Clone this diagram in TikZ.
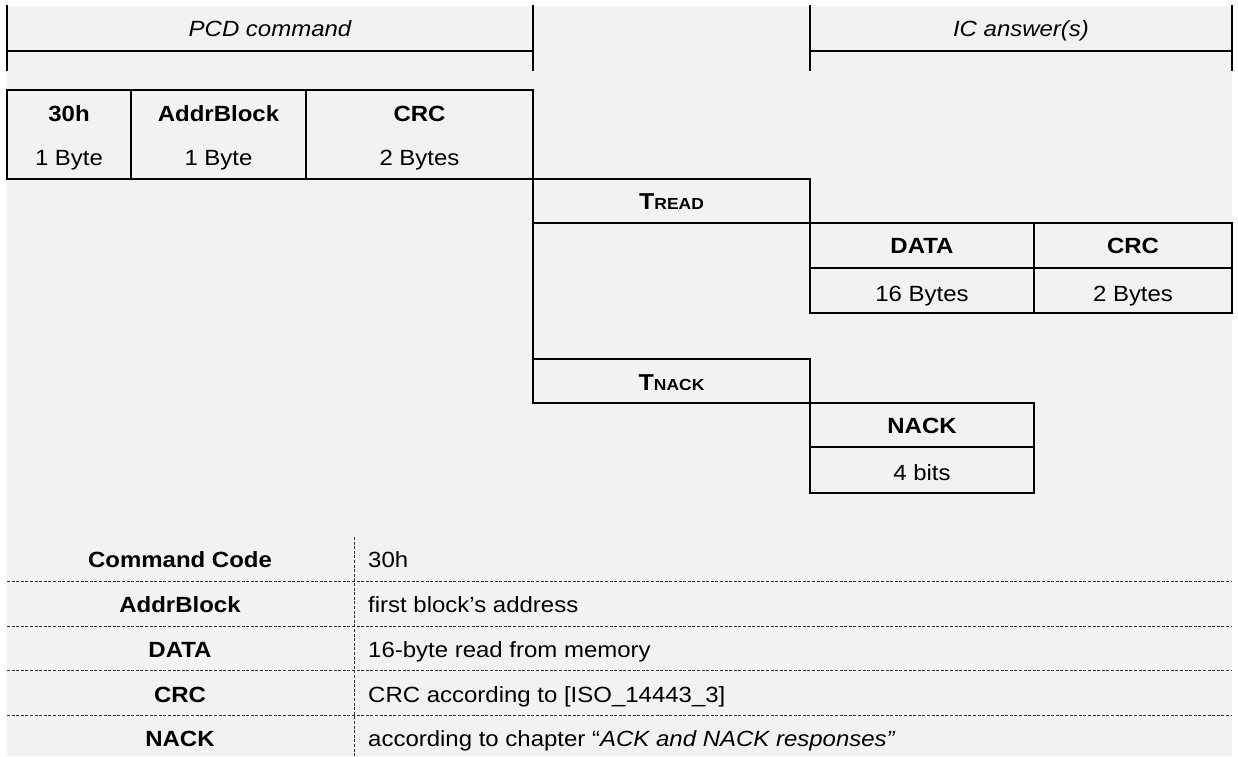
\documentclass[tikz,border=0pt]{standalone}
\usepackage{fontspec}
\setmainfont{Liberation Sans}[FakeStretch=1.09]
\definecolor{bggray}{HTML}{F2F2F2}
\begin{document}
\begin{tikzpicture}[x=1pt,y=-1pt,
  frame/.style={line width=2pt,black,line cap=rect},
  dline/.style={line width=1pt,black!80,dash pattern=on 3pt off 1.6pt},
  txt/.style={anchor=base,inner sep=0pt,font=\fontsize{22}{26}\selectfont},
  btxt/.style={anchor=base,inner sep=0pt,font=\fontsize{22}{26}\selectfont\bfseries},
  itxt/.style={anchor=base,inner sep=0pt,font=\fontsize{22}{26}\selectfont\itshape},
  ltxt/.style={anchor=base west,inner sep=0pt,font=\fontsize{22}{26}\selectfont},
]
\useasboundingbox (0,0) rectangle (1238,756);
\fill[white] (0,0) rectangle (1238,756);
\fill[bggray] (7,6) rectangle (1232,756);

% top frames
\draw[frame] (7,6) -- (7,70);
\draw[frame] (7,51) -- (533,51);
\draw[frame] (533,6) -- (533,70);
\draw[frame] (810,6) -- (810,70);
\draw[frame] (810,51) -- (1232,51);
\draw[frame] (1232,6) -- (1232,70);
\node[itxt] (pcd) at (270,36) {PCD command};
\node[itxt] (ic) at (1021,36) {IC answer(s)};

% command frame
\draw[frame] (7,90) rectangle (533,179);
\draw[frame] (131,90) -- (131,179);
\draw[frame] (306,90) -- (306,179);
\node[btxt] (c1) at (69,121.5) {30h};
\node[txt] (c1b) at (69,165) {1 Byte};
\node[btxt] (c2) at (218.5,121.5) {AddrBlock};
\node[txt] (c2b) at (218.5,165) {1 Byte};
\node[btxt] (c3) at (419.5,121.5) {CRC};
\node[txt] (c3b) at (419.5,165) {2 Bytes};

% timing line
\draw[frame] (533,179) -- (533,403);

% TREAD and answer
\draw[frame] (533,179) -- (810,179) -- (810,313);
\draw[frame] (533,223) -- (1232,223) -- (1232,313) -- (810,313);
\draw[frame] (810,268) -- (1232,268);
\draw[frame] (1034,223) -- (1034,313);
\node[btxt] (tread) at (671.5,209.5) {{\fontsize{23}{26}\selectfont T}{\fontsize{16}{18}\selectfont READ}};
\node[btxt] (d1) at (922,253.7) {DATA};
\node[txt] (d1b) at (922,301) {16 Bytes};
\node[btxt] (d2) at (1133,253.7) {CRC};
\node[txt] (d2b) at (1133,301) {2 Bytes};

% TNACK and NACK
\draw[frame] (533,359) -- (810,359) -- (810,493);
\draw[frame] (533,403) -- (1034,403) -- (1034,493) -- (810,493);
\draw[frame] (810,447) -- (1034,447);
\node[btxt] (tnack) at (671.5,390) {{\fontsize{23}{26}\selectfont T}{\fontsize{16}{18}\selectfont NACK}};
\node[btxt] (n1) at (922,433.7) {NACK};
\node[txt] (n1b) at (922,480) {4 bits};

% legend table
\draw[dline] (354,537) -- (354,756);
\draw[dline] (7,581.5) -- (1232,581.5);
\draw[dline] (7,626) -- (1232,626);
\draw[dline] (7,670.5) -- (1232,670.5);
\draw[dline] (7,715.5) -- (1232,715.5);
\node[btxt] (k1) at (180,567.5) {Command Code};
\node[btxt] (k2) at (180,612) {AddrBlock};
\node[btxt] (k3) at (180,657) {DATA};
\node[btxt] (k4) at (180,702) {CRC};
\node[btxt] (k5) at (180,746.5) {NACK};
\node[ltxt] (v1) at (368,567.5) {30h};
\node[ltxt] (v2) at (368,612) {first block’s address};
\node[ltxt] (v3) at (368,657) {16-byte read from memory};
\node[ltxt] (v4) at (368,702) {CRC according to [ISO\_14443\_3]};
\node[ltxt] (v5) at (368,746.5) {according to chapter “\textit{ACK and NACK responses”}};
\end{tikzpicture}
\end{document}
